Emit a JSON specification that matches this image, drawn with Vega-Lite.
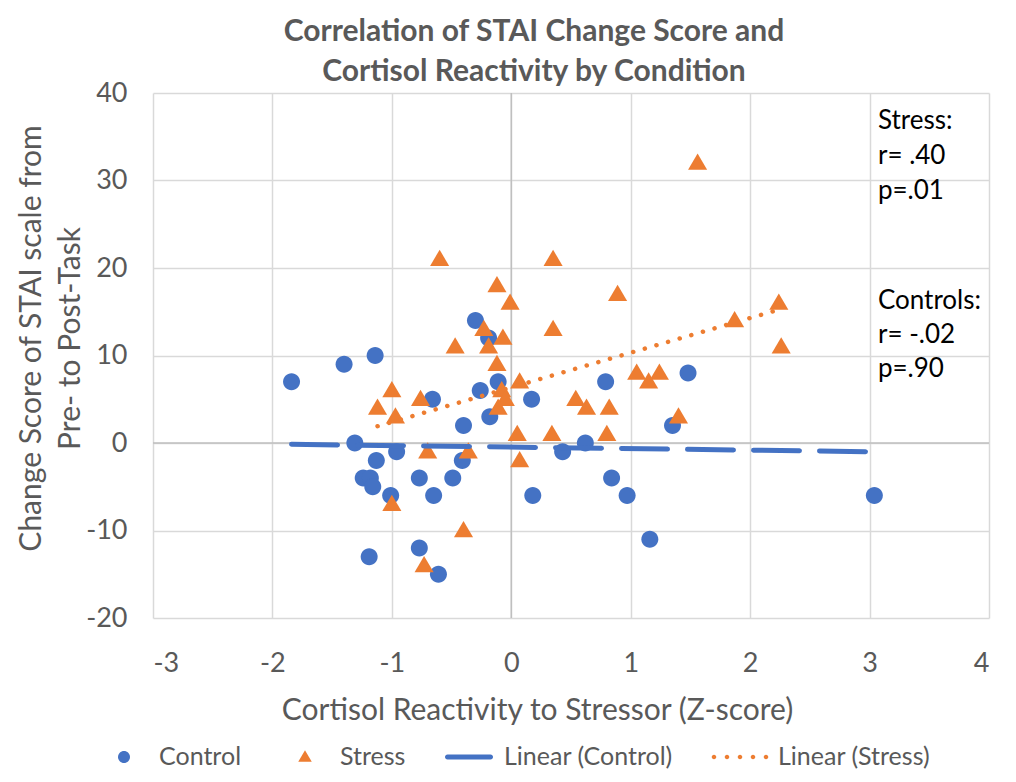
{
  "$schema": "https://vega.github.io/schema/vega-lite/v6.json",
  "width": 836,
  "height": 525,
  "autosize": {"type": "none"},
  "padding": {"left": 153, "top": 93, "right": 27, "bottom": 164},
  "background": "white",
  "config": {
    "font": "Lato",
    "view": {"stroke": null},
    "axis": {"labelColor": "#595959", "titleColor": "#595959", "titleFontWeight": "normal", "gridColor": "#D9D9D9", "gridWidth": 1.5, "domain": false, "ticks": false},
    "title": {"color": "#595959", "fontSize": 30, "fontWeight": "bold", "lineHeight": 40}
  },
  "title": {"text": ["Correlation  of STAI Change Score and", "Cortisol  Reactivity by Condition"], "dx": -37, "offset": -8},
  "datasets": {
    "pts": [
      {"series": "Control", "x": -1.84, "y": 7},
      {"series": "Control", "x": -1.40, "y": 9},
      {"series": "Control", "x": -1.14, "y": 10},
      {"series": "Control", "x": -1.31, "y": 0},
      {"series": "Control", "x": -1.24, "y": -4},
      {"series": "Control", "x": -1.18, "y": -4},
      {"series": "Control", "x": -1.16, "y": -5},
      {"series": "Control", "x": -1.13, "y": -2},
      {"series": "Control", "x": -0.96, "y": -1},
      {"series": "Control", "x": -1.01, "y": -6},
      {"series": "Control", "x": -1.19, "y": -13},
      {"series": "Control", "x": -0.77, "y": -4},
      {"series": "Control", "x": -0.65, "y": -6},
      {"series": "Control", "x": -0.77, "y": -12},
      {"series": "Control", "x": -0.61, "y": -15},
      {"series": "Control", "x": -0.66, "y": 5},
      {"series": "Control", "x": -0.49, "y": -4},
      {"series": "Control", "x": -0.41, "y": -2},
      {"series": "Control", "x": -0.40, "y": 2},
      {"series": "Control", "x": -0.30, "y": 14},
      {"series": "Control", "x": -0.19, "y": 12},
      {"series": "Control", "x": -0.26, "y": 6},
      {"series": "Control", "x": -0.11, "y": 7},
      {"series": "Control", "x": -0.18, "y": 3},
      {"series": "Control", "x": 0.17, "y": 5},
      {"series": "Control", "x": 0.79, "y": 7},
      {"series": "Control", "x": 1.48, "y": 8},
      {"series": "Control", "x": 1.35, "y": 2},
      {"series": "Control", "x": 0.43, "y": -1},
      {"series": "Control", "x": 0.62, "y": 0},
      {"series": "Control", "x": 0.18, "y": -6},
      {"series": "Control", "x": 0.84, "y": -4},
      {"series": "Control", "x": 0.97, "y": -6},
      {"series": "Control", "x": 1.16, "y": -11},
      {"series": "Control", "x": 3.04, "y": -6},
      {"series": "Stress", "x": -0.12, "y": 18},
      {"series": "Stress", "x": -0.01, "y": 16},
      {"series": "Stress", "x": -0.23, "y": 13},
      {"series": "Stress", "x": -0.07, "y": 12},
      {"series": "Stress", "x": -0.47, "y": 11},
      {"series": "Stress", "x": -0.19, "y": 11},
      {"series": "Stress", "x": -0.12, "y": 9},
      {"series": "Stress", "x": 0.07, "y": 7},
      {"series": "Stress", "x": -1.00, "y": 6},
      {"series": "Stress", "x": -0.08, "y": 6},
      {"series": "Stress", "x": -0.05, "y": 5},
      {"series": "Stress", "x": -0.76, "y": 5},
      {"series": "Stress", "x": -1.12, "y": 4},
      {"series": "Stress", "x": -0.97, "y": 3},
      {"series": "Stress", "x": -0.11, "y": 4},
      {"series": "Stress", "x": 0.05, "y": 1},
      {"series": "Stress", "x": -0.70, "y": -1},
      {"series": "Stress", "x": -0.36, "y": -1},
      {"series": "Stress", "x": 0.07, "y": -2},
      {"series": "Stress", "x": -1.00, "y": -7},
      {"series": "Stress", "x": -0.40, "y": -10},
      {"series": "Stress", "x": -0.73, "y": -14},
      {"series": "Stress", "x": 1.56, "y": 32},
      {"series": "Stress", "x": 0.35, "y": 21},
      {"series": "Stress", "x": -0.60, "y": 21},
      {"series": "Stress", "x": 0.89, "y": 17},
      {"series": "Stress", "x": 0.35, "y": 13},
      {"series": "Stress", "x": 1.87, "y": 14},
      {"series": "Stress", "x": 1.05, "y": 8},
      {"series": "Stress", "x": 1.24, "y": 8},
      {"series": "Stress", "x": 1.15, "y": 7},
      {"series": "Stress", "x": 0.54, "y": 5},
      {"series": "Stress", "x": 0.63, "y": 4},
      {"series": "Stress", "x": 0.82, "y": 4},
      {"series": "Stress", "x": 1.40, "y": 3},
      {"series": "Stress", "x": 0.34, "y": 1},
      {"series": "Stress", "x": 0.80, "y": 1},
      {"series": "Stress", "x": 2.24, "y": 16},
      {"series": "Stress", "x": 2.26, "y": 11}
    ]
  },
  "layer": [
    {
      "data": {"values": [{}]},
      "mark": {"type": "rule", "color": "#BFBFBF", "strokeWidth": 1.5},
      "encoding": {"x": {"datum": 0, "type": "quantitative", "scale": {"domain": [-3, 4], "nice": false}}}
    },
    {
      "data": {"values": [{}]},
      "mark": {"type": "rule", "color": "#BFBFBF", "strokeWidth": 1.5},
      "encoding": {"y": {"datum": 0, "type": "quantitative"}}
    },
    {
      "data": {"name": "pts"},
      "mark": {"type": "point", "filled": true, "opacity": 1, "strokeWidth": 0, "size": 5000},
      "encoding": {
        "x": {"field": "x", "type": "quantitative", "scale": {"domain": [-3, 4], "nice": false},
          "axis": {"values": [-3, -2, -1, 0, 1, 2, 3, 4], "labelExpr": "'' + datum.value", "grid": true, "labelFontSize": 27, "labelPadding": 32,
            "title": "Cortisol Reactivity to Stressor (Z-score)", "titleFontSize": 30, "titleX": 384, "titleY": 92, "titleBaseline": "middle", "titleAlign": "center", "titleAnchor": null}},
        "y": {"field": "y", "type": "quantitative", "scale": {"domain": [-20, 40], "nice": false},
          "axis": {"values": [-20, -10, 0, 10, 20, 30, 40], "labelExpr": "'' + datum.value", "grid": true, "labelFontSize": 27, "labelPadding": 26,
            "title": ["Change Score of STAI scale from", "Pre- to Post-Task"], "titleFontSize": 30, "titleLineHeight": 39, "titleX": -122, "titleY": 245, "titleBaseline": "middle", "titleAlign": "center", "titleAngle": -90, "titleAnchor": null}},
        "color": {"field": "series", "type": "nominal",
          "scale": {"domain": ["Control", "Stress", "Linear (Control)", "Linear (Stress)"], "range": ["#4472C4", "#ED7D31", "#4472C4", "#ED7D31"]},
          "legend": {"title": null, "orient": "none", "direction": "horizontal", "legendX": -54, "legendY": 639, "padding": 0,
            "labelFontSize": 25, "labelColor": "#595959", "labelLimit": 400, "symbolSize": 2500, "symbolStrokeWidth": 0, "labelOffset": 10, "columnPadding": 38}},
        "shape": {"field": "series", "type": "nominal",
          "scale": {"domain": ["Control", "Stress", "Linear (Control)", "Linear (Stress)"],
            "range": [
              "M-0.24,0A0.24,0.24,0,1,0,0.24,0A0.24,0.24,0,1,0,-0.24,0Z",
              "M0,-0.27L0.27,0.19L-0.27,0.19Z",
              "M-0.86,-0.1H0.86A0.1,0.1,0,0,1,0.86,0.1H-0.86A0.1,0.1,0,0,1,-0.86,-0.1Z",
              "M-1.25,0A0.09,0.09,0,1,0,-1.07,0A0.09,0.09,0,1,0,-1.25,0ZM-0.73,0A0.09,0.09,0,1,0,-0.55,0A0.09,0.09,0,1,0,-0.73,0ZM-0.21,0A0.09,0.09,0,1,0,-0.03,0A0.09,0.09,0,1,0,-0.21,0ZM0.31,0A0.09,0.09,0,1,0,0.49,0A0.09,0.09,0,1,0,0.31,0ZM0.83,0A0.09,0.09,0,1,0,1.01,0A0.09,0.09,0,1,0,0.83,0Z"
            ]},
          "legend": {"title": null, "orient": "none", "direction": "horizontal", "legendX": -54, "legendY": 639, "padding": 0,
            "labelFontSize": 25, "labelColor": "#595959", "labelLimit": 400, "symbolSize": 2500, "symbolStrokeWidth": 0, "labelOffset": 10, "columnPadding": 38}}
      }
    },
    {
      "data": {"name": "pts"},
      "transform": [{"filter": "datum.series == 'Control'"}, {"regression": "y", "on": "x"}],
      "mark": {"type": "line", "color": "#4472C4", "strokeWidth": 5, "strokeDash": [46, 20], "strokeCap": "round"},
      "encoding": {"x": {"field": "x", "type": "quantitative"}, "y": {"field": "y", "type": "quantitative"}}
    },
    {
      "data": {"name": "pts"},
      "transform": [{"filter": "datum.series == 'Stress'"}, {"regression": "y", "on": "x"}],
      "mark": {"type": "line", "color": "#ED7D31", "strokeWidth": 4.5, "strokeDash": [0.1, 12], "strokeCap": "round"},
      "encoding": {"x": {"field": "x", "type": "quantitative"}, "y": {"field": "y", "type": "quantitative"}}
    },
    {
      "data": {"values": [{}]},
      "mark": {"type": "text", "align": "left", "baseline": "alphabetic", "fontSize": 26, "lineHeight": 35, "color": "#000000"},
      "encoding": {"x": {"datum": 3.07, "type": "quantitative"}, "y": {"datum": 35.9, "type": "quantitative"}, "text": {"value": ["Stress:", "r= .40", "p=.01"]}}
    },
    {
      "data": {"values": [{}]},
      "mark": {"type": "text", "align": "left", "baseline": "alphabetic", "fontSize": 26, "lineHeight": 34, "color": "#000000"},
      "encoding": {"x": {"datum": 3.07, "type": "quantitative"}, "y": {"datum": 15.35, "type": "quantitative"}, "text": {"value": ["Controls:", "r= -.02", "p=.90"]}}
    }
  ]
}
